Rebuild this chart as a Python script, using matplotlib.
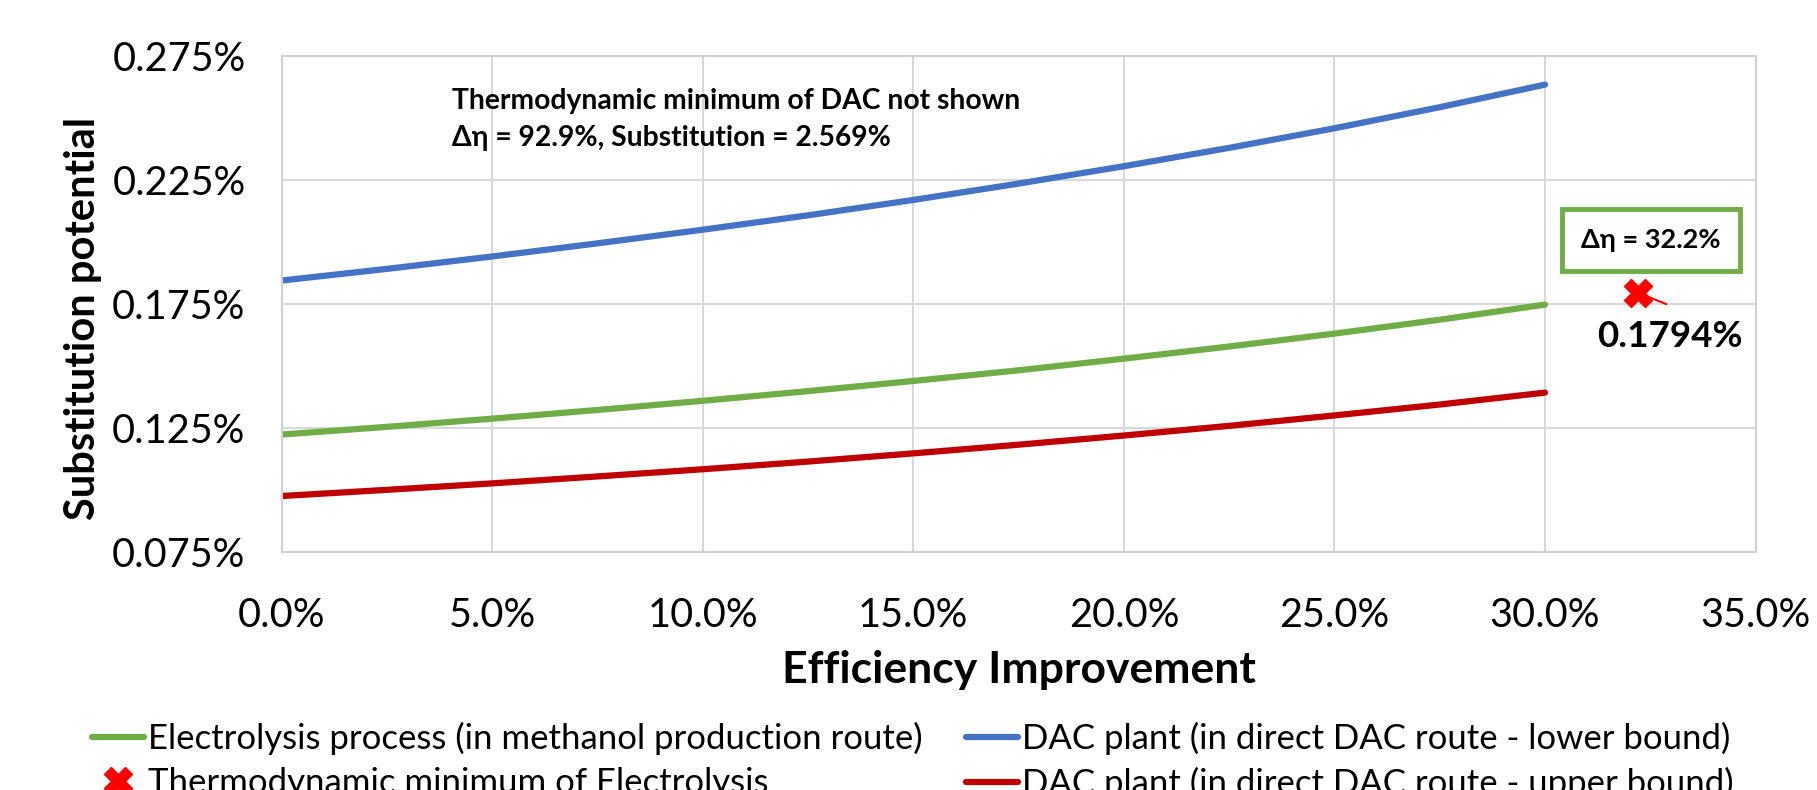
import numpy as np
import matplotlib
matplotlib.use("Agg")
from matplotlib import pyplot as plt
from matplotlib.ticker import FuncFormatter

plt.rcParams["font.family"] = ["Lato", "DejaVu Sans"]

# efficiency improvement (%) and substitution potential (%) for each route
improvement = [0.0, 2.5, 5.0, 7.5, 10.0, 12.5, 15.0, 17.5, 20.0, 22.5, 25.0, 27.5, 30.0]
electrolysis = [0.1222, 0.1253, 0.1286, 0.1321, 0.1358, 0.1397, 0.1438, 0.1481, 0.1528,
                0.1577, 0.1629, 0.1685, 0.1746]
dac_lower = [0.1843, 0.1890, 0.1940, 0.1993, 0.2048, 0.2106, 0.2168, 0.2234, 0.2304,
             0.2378, 0.2457, 0.2542, 0.2633]
dac_upper = [0.0974, 0.0999, 0.1025, 0.1053, 0.1082, 0.1113, 0.1146, 0.1181, 0.1218,
             0.1257, 0.1299, 0.1343, 0.1391]

# thermodynamic minimum of electrolysis
thermo_x = 32.2
thermo_y = 0.1794

fig = plt.figure(figsize=(18.17, 7.9), dpi=100)
ax = fig.add_axes([0.155, 0.3018, 0.8112, 0.6278])

green = "#70ad47"
blue = "#4472c4"
red = "#c00000"

l_el, = ax.plot(improvement, electrolysis, color=green, lw=4.5, solid_capstyle="round",
                label="Electrolysis process (in methanol production route)")
l_lo, = ax.plot(improvement, dac_lower, color=blue, lw=4.5, solid_capstyle="round",
                label="DAC plant (in direct DAC route - lower bound)")
l_up, = ax.plot(improvement, dac_upper, color=red, lw=4.5, solid_capstyle="round",
                label="DAC plant (in direct DAC route - upper bound)")
m_th, = ax.plot([thermo_x], [thermo_y], linestyle="none", marker="X", color="#ff0000",
                markersize=20, label="Thermodynamic minimum of Electrolysis")

ax.set_xlim(0, 35)
ax.set_ylim(0.075, 0.275)
ax.set_xticks(np.arange(0, 35.1, 5))
ax.set_yticks(np.arange(0.075, 0.2751, 0.05))
ax.xaxis.set_major_formatter(FuncFormatter(lambda v, p: f"{v:.1f}%"))
ax.yaxis.set_major_formatter(FuncFormatter(lambda v, p: f"{v:.3f}%"))
ax.tick_params(length=0, labelsize=28.5)
ax.tick_params(axis="x", pad=33)
ax.tick_params(axis="y", pad=26)
ax.grid(True, color="#d9d9d9", lw=1.5)
ax.set_axisbelow(True)
for s in ax.spines.values():
    s.set_color("#d0d0d0")
    s.set_linewidth(1.5)

ax.set_xlabel("Efficiency Improvement", fontsize=32, fontweight="bold", va="center")
ax.set_ylabel("Substitution potential", fontsize=30, fontweight="bold", va="center")
ax.xaxis.set_label_coords(0.5, -0.238)
ax.yaxis.set_label_coords(-0.1347, 0.47)

ax.text(4.05, 0.2492, "Thermodynamic minimum of DAC not shown\n"
        "\u0394\u03b7 = 92.9%, Substitution = 2.569%",
        fontsize=20.3, fontweight="bold", va="center", ha="left", linespacing=1.55)

ax.text(32.52, 0.2006, "\u0394\u03b7 = 32.2%", fontsize=19.5, fontweight="bold",
        ha="center", va="center",
        bbox=dict(boxstyle="square,pad=0.7", fc="white", ec=green, lw=3.5))
ax.annotate("0.1794%", xy=(thermo_x, thermo_y), xytext=(32.97, 0.1617),
            fontsize=26.5, fontweight="bold", ha="center", va="center")
ax.annotate("", xy=(32.94, 0.1744), xytext=(thermo_x + 0.15, thermo_y - 0.001),
            arrowprops=dict(arrowstyle="-", color="#ff0000", lw=1.5))

fig.legend(handles=[l_el, m_th, l_lo, l_up], ncol=2, loc="upper left",
           bbox_to_anchor=(0.043, 0.104), frameon=False, fontsize=25,
           handlelength=1.5, handletextpad=0.1, columnspacing=1.27,
           labelspacing=0.35, borderaxespad=0)

fig.savefig("out.png", dpi=100)
